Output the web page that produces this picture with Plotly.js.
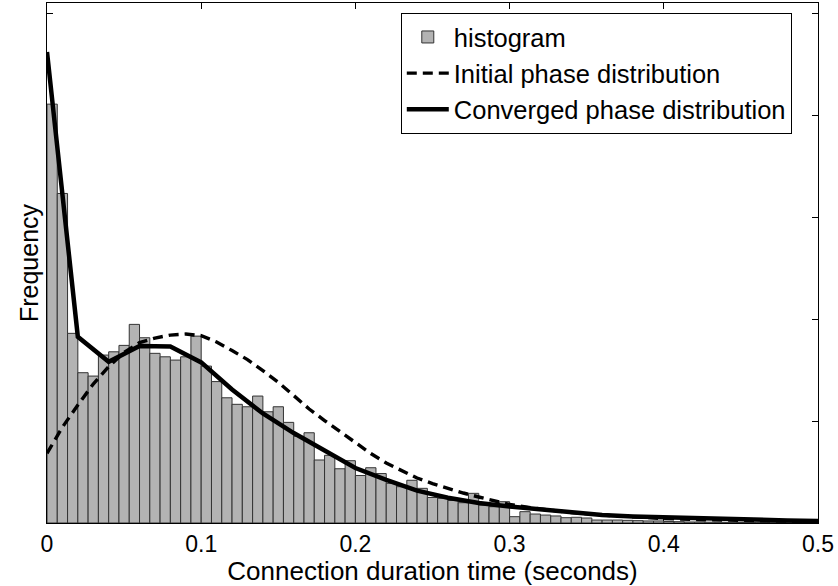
<!DOCTYPE html>
<html>
<head>
<meta charset="utf-8">
<script src="https://cdn.plot.ly/plotly-3.0.1.min.js"></script>
<style>
  html, body { margin: 0; padding: 0; background: #ffffff; }
  #chart { width: 838px; height: 586px; }
</style>
</head>
<body>
<div id="chart"></div>
<script>
// Histogram of connection durations: 75 bins of width 1/150 s over [0, 0.5]
const binWidth = 1 / 150;
const histCounts = [
  4.108, 3.232, 1.860, 1.474, 1.441, 1.647, 1.679, 1.742, 1.948, 1.817,
  1.664, 1.630, 1.598, 1.630, 1.833, 1.539, 1.387, 1.228, 1.164, 1.140,
  1.245, 1.091, 1.140, 0.987, 0.850, 0.885, 0.618, 0.664, 0.532, 0.611,
  0.466, 0.542, 0.485, 0.389, 0.356, 0.419, 0.340, 0.250, 0.242, 0.221,
  0.199, 0.291, 0.176, 0.160, 0.209, 0.062, 0.111, 0.088, 0.078, 0.069,
  0.052, 0.056, 0.049, 0.029, 0.029, 0.029, 0.026, 0.023, 0.020, 0.020,
  0.015, 0.013, 0.010, 0.010, 0.008, 0.007, 0.006, 0.005, 0.005, 0.004,
  0.004, 0.003, 0.008, 0.008, 0.002
];
const binCenters = histCounts.map((_, i) => (i + 0.5) * binWidth);

// Initial phase distribution (fitted density)
const initX = [
  0.00, 0.01, 0.02, 0.03, 0.04, 0.05, 0.06, 0.07, 0.08, 0.09,
  0.10, 0.11, 0.12, 0.13, 0.14, 0.15, 0.16, 0.17, 0.18, 0.19,
  0.20, 0.21, 0.22, 0.23, 0.24, 0.25, 0.26, 0.27, 0.28, 0.29,
  0.30, 0.32, 0.34, 0.36, 0.38, 0.40, 0.42, 0.44, 0.46, 0.48, 0.50
];
const initY = [
  0.683, 0.940, 1.157, 1.363, 1.534, 1.672, 1.770, 1.814, 1.843, 1.853,
  1.838, 1.775, 1.691, 1.603, 1.495, 1.380, 1.250, 1.118, 1.005, 0.897,
  0.784, 0.681, 0.588, 0.515, 0.441, 0.387, 0.338, 0.294, 0.255, 0.216,
  0.181, 0.137, 0.103, 0.078, 0.059, 0.044, 0.034, 0.026, 0.022, 0.018, 0.015
];

// Converged phase distribution
const convX = [
  0.00, 0.02, 0.04, 0.06, 0.08, 0.10, 0.12, 0.14, 0.16, 0.18,
  0.20, 0.22, 0.24, 0.26, 0.28, 0.30, 0.32, 0.34, 0.36, 0.38,
  0.40, 0.42, 0.44, 0.46, 0.48, 0.50
];
const convY = [
  4.620, 1.826, 1.581, 1.735, 1.730, 1.575, 1.309, 1.074, 0.882, 0.711,
  0.539, 0.422, 0.317, 0.248, 0.196, 0.162, 0.132, 0.098, 0.078, 0.064,
  0.054, 0.044, 0.034, 0.029, 0.025, 0.020
];

const xTickVals = [0, 0.1, 0.2, 0.3, 0.4, 0.5];
const xTickText = ['0', '0.1', '0.2', '0.3', '0.4', '0.5'];

const fontFamily = '"Liberation Sans", Arial, Helvetica, sans-serif';

const traces = [
  {
    type: 'bar',
    name: 'histogram',
    x: binCenters,
    y: histCounts,
    width: binWidth,
    marker: { color: '#b3b3b3', line: { color: '#333333', width: 1 } },
    hoverinfo: 'x+y'
  },
  {
    type: 'scatter',
    mode: 'lines',
    name: 'Initial phase distribution',
    x: initX,
    y: initY,
    line: { color: '#000000', width: 3.4, dash: '10px,6px' }
  },
  {
    type: 'scatter',
    mode: 'lines',
    name: 'Converged phase distribution',
    x: convX,
    y: convY,
    line: { color: '#000000', width: 4.5 }
  }
];

const layout = {
  width: 838,
  height: 586,
  margin: { l: 47, r: 20, t: 3, b: 63 },
  paper_bgcolor: '#ffffff',
  plot_bgcolor: '#ffffff',
  font: { family: fontFamily, size: 23, color: '#000000' },
  showlegend: true,
  bargap: 0,
  xaxis: {
    range: [0, 0.5],
    tickvals: xTickVals,
    ticktext: xTickText,
    ticks: 'inside',
    ticklen: 6,
    tickcolor: '#000000',
    showline: true,
    linecolor: '#000000',
    linewidth: 1,
    mirror: 'allticks',
    showgrid: false,
    zeroline: false,
    layer: 'below traces',
    tickfont: { family: fontFamily, size: 23, color: '#000000' },
    title: { text: 'Connection duration time (seconds)', font: { family: fontFamily, size: 26, color: '#000000' }, standoff: 0 }
  },
  yaxis: {
    range: [0, 5.1],
    dtick: 1,
    tick0: 0,
    ticks: 'inside',
    ticklen: 6,
    tickcolor: '#000000',
    showticklabels: false,
    showline: true,
    linecolor: '#000000',
    linewidth: 1,
    mirror: 'allticks',
    showgrid: false,
    zeroline: false,
    layer: 'below traces',
    title: { text: 'Frequency', font: { family: fontFamily, size: 25, color: '#000000' }, standoff: 0 }
  },
  legend: {
    x: 0.966,
    y: 0.981,
    xanchor: 'right',
    yanchor: 'top',
    bgcolor: '#ffffff',
    bordercolor: '#000000',
    borderwidth: 1,
    itemwidth: 42,
    font: { family: fontFamily, size: 25.5, color: '#000000' },
    tracegroupgap: 0
  }
};

Plotly.newPlot('chart', traces, layout, { displayModeBar: false, staticPlot: true });
</script>
</body>
</html>
